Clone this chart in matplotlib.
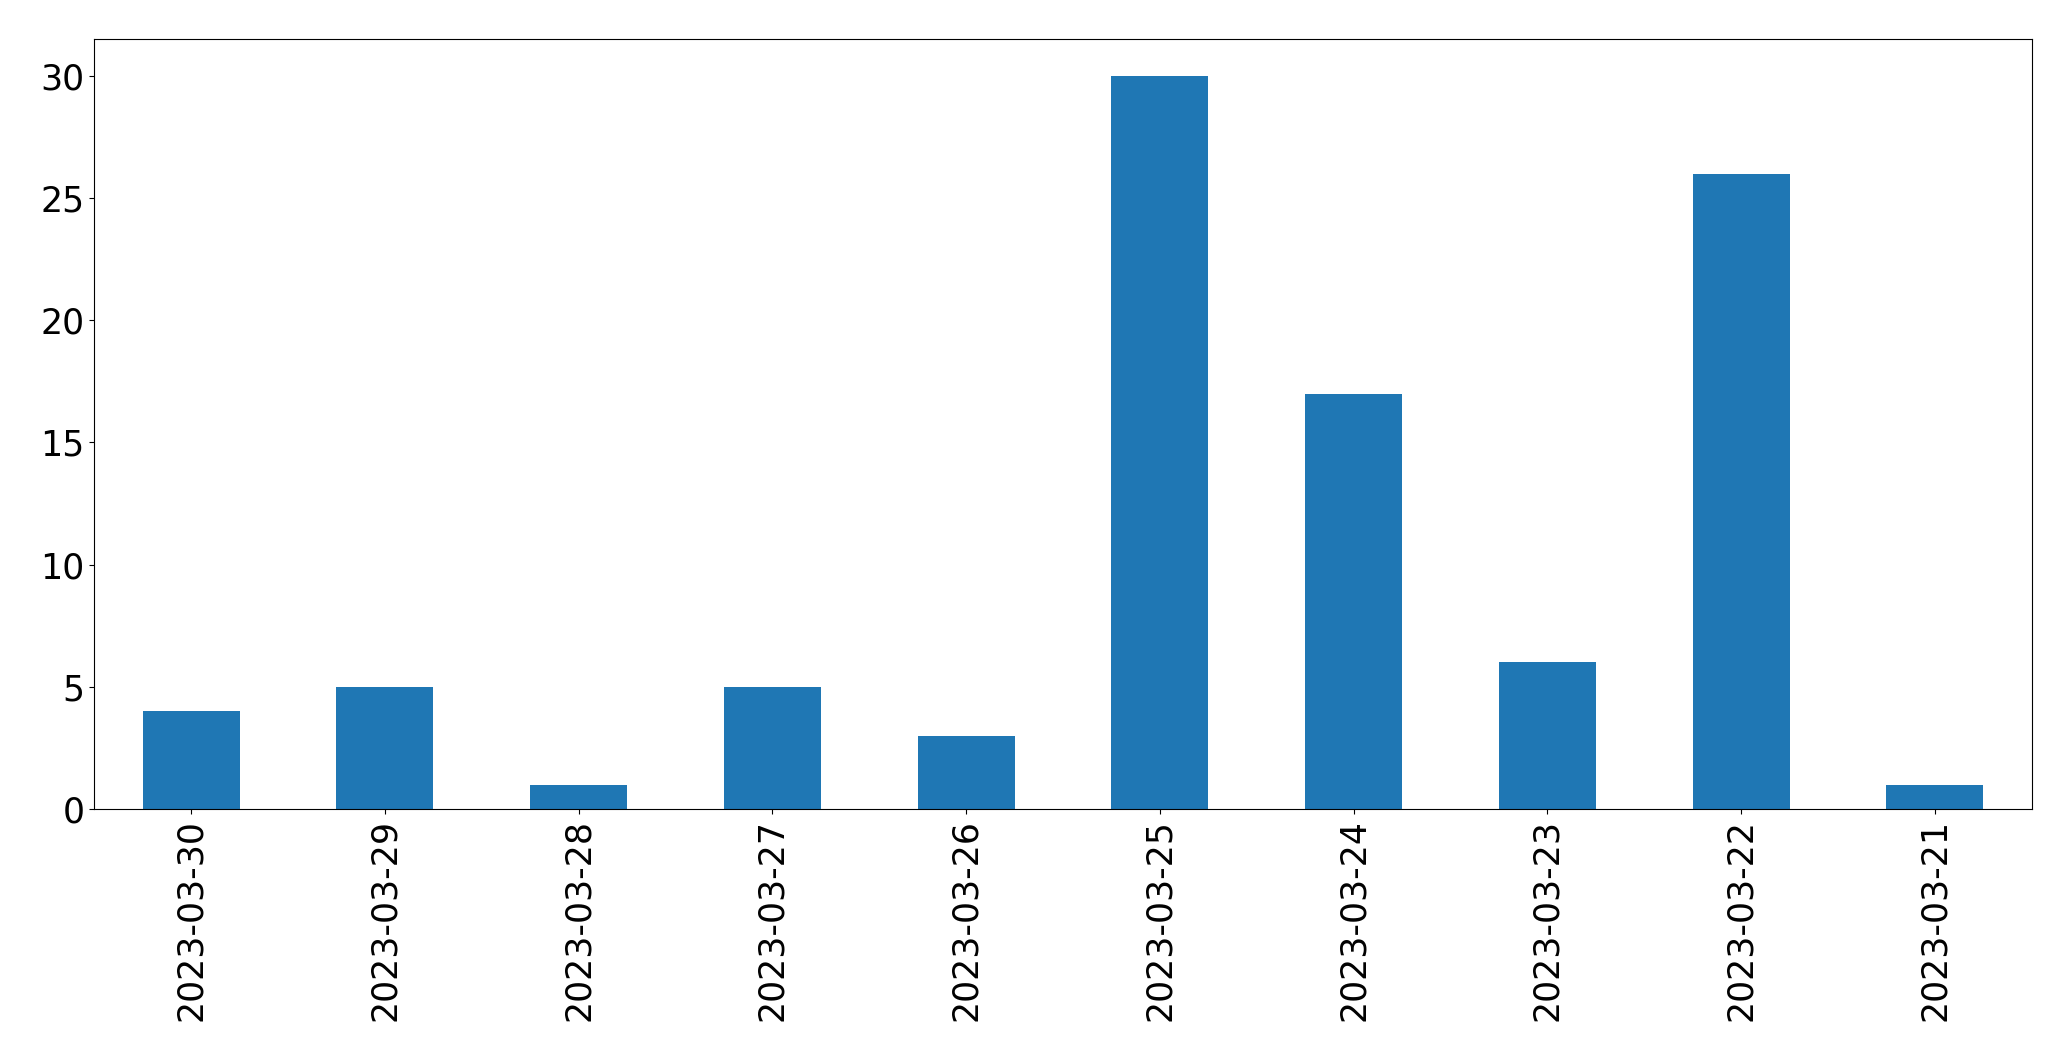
import matplotlib
matplotlib.use("Agg")
import matplotlib.pyplot as plt
import pandas as pd

dates = ["2023-03-30", "2023-03-29", "2023-03-28", "2023-03-27", "2023-03-26",
         "2023-03-25", "2023-03-24", "2023-03-23", "2023-03-22", "2023-03-21"]
counts = [4, 5, 1, 5, 3, 30, 17, 6, 26, 1]

fig = plt.figure(figsize=(20.71, 10.61), dpi=100)
ax = fig.add_axes([94.3 / 2071, 1 - 809 / 1061, (2031.7 - 94.3) / 2071, (809 - 39.3) / 1061])
s = pd.Series(counts, index=dates)
s.plot(kind="bar", ax=ax, color="#1f77b4")
ax.tick_params(axis="both", labelsize=25)
fig.savefig("out.png", dpi=100)
